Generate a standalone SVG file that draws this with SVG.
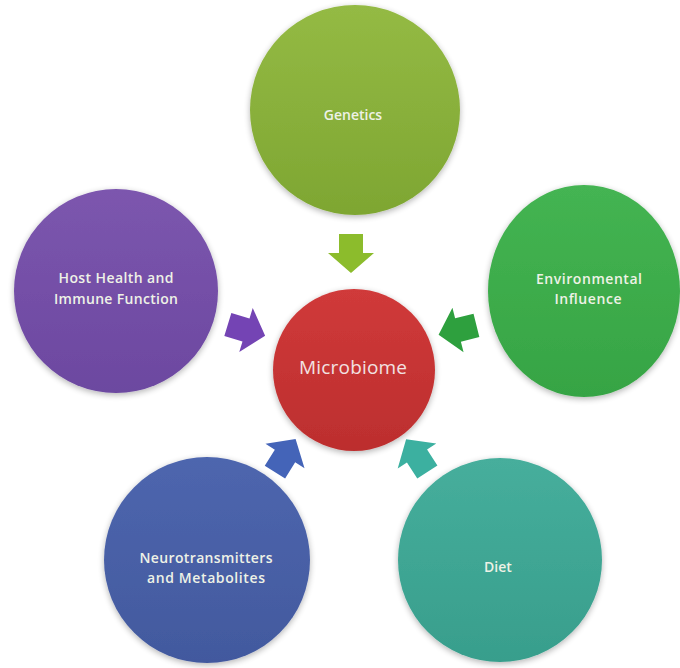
<svg xmlns="http://www.w3.org/2000/svg" width="680" height="668" viewBox="0 0 680 668">
<defs>
<style>
.lbl{font-family:"Open Sans","Liberation Sans",sans-serif;font-size:14px;font-weight:600;fill:#eef2e6;text-anchor:middle}
.main{font-family:"Open Sans","Liberation Sans",sans-serif;font-size:19px;fill:#f2e2e2;text-anchor:middle}
</style>
<filter id="sh" x="-20%" y="-20%" width="140%" height="140%">
<feGaussianBlur in="SourceAlpha" stdDeviation="3"/>
<feOffset dx="0" dy="2" result="b"/>
<feComponentTransfer><feFuncA type="linear" slope="0.3"/></feComponentTransfer>
<feMerge><feMergeNode/><feMergeNode in="SourceGraphic"/></feMerge>
</filter>
<linearGradient id="gGen" x1="0" y1="0" x2="0" y2="1"><stop offset="0" stop-color="#94ba44"/><stop offset="1" stop-color="#7ea632"/></linearGradient>
<linearGradient id="gHost" x1="0" y1="0" x2="0" y2="1"><stop offset="0" stop-color="#7c56ae"/><stop offset="1" stop-color="#6c48a0"/></linearGradient>
<linearGradient id="gEnv" x1="0" y1="0" x2="0" y2="1"><stop offset="0" stop-color="#44b452"/><stop offset="1" stop-color="#36a444"/></linearGradient>
<linearGradient id="gMic" x1="0" y1="0" x2="0" y2="1"><stop offset="0" stop-color="#d03a3a"/><stop offset="1" stop-color="#bc2e2e"/></linearGradient>
<linearGradient id="gNeu" x1="0" y1="0" x2="0" y2="1"><stop offset="0" stop-color="#4e66ae"/><stop offset="1" stop-color="#42599e"/></linearGradient>
<linearGradient id="gDiet" x1="0" y1="0" x2="0" y2="1"><stop offset="0" stop-color="#46ae9c"/><stop offset="1" stop-color="#389e8c"/></linearGradient>
<path id="arr" d="M-19,-12 L0,-12 L0,-23 L20,0 L0,23 L0,12 L-19,12 Z"/>
</defs>
<rect width="680" height="668" fill="#ffffff"/>
<g id="connectors">
<use href="#arr" transform="translate(351,253) rotate(90)" fill="#8cbc2c"/>
<use href="#arr" transform="translate(246,330) rotate(17)" fill="#7444b4"/>
<use href="#arr" transform="translate(458,330) rotate(166)" fill="#2ea03e"/>
<use href="#arr" transform="translate(285,456) rotate(-58)" fill="#4464b8"/>
<use href="#arr" transform="translate(417,456) rotate(-123)" fill="#3cb0a0"/>
</g>
<g id="genetics">
<circle cx="355" cy="110" r="105" fill="url(#gGen)" filter="url(#sh)"/>
<text class="lbl" x="353" y="120">Genetics</text>
</g>
<g id="host">
<circle cx="116" cy="291" r="102" fill="url(#gHost)" filter="url(#sh)"/>
<text class="lbl" x="116" y="283" textLength="115">Host Health and</text>
<text class="lbl" x="116" y="304" textLength="124">Immune Function</text>
</g>
<g id="environmental">
<ellipse cx="584" cy="291" rx="96" ry="106" fill="url(#gEnv)" filter="url(#sh)"/>
<text class="lbl" x="589" y="283.5" textLength="106">Environmental</text>
<text class="lbl" x="588" y="303.5" textLength="67">Influence</text>
</g>
<g id="microbiome">
<circle cx="354" cy="370" r="81" fill="url(#gMic)" filter="url(#sh)"/>
<text class="main" x="353" y="373.5" textLength="108">Microbiome</text>
</g>
<g id="neurotransmitters">
<circle cx="207" cy="560" r="103" fill="url(#gNeu)" filter="url(#sh)"/>
<text class="lbl" x="206" y="562.5" textLength="133">Neurotransmitters</text>
<text class="lbl" x="206" y="582.5" textLength="118">and Metabolites</text>
</g>
<g id="diet">
<circle cx="500" cy="560" r="102" fill="url(#gDiet)" filter="url(#sh)"/>
<text class="lbl" x="498" y="572">Diet</text>
</g>
</svg>
